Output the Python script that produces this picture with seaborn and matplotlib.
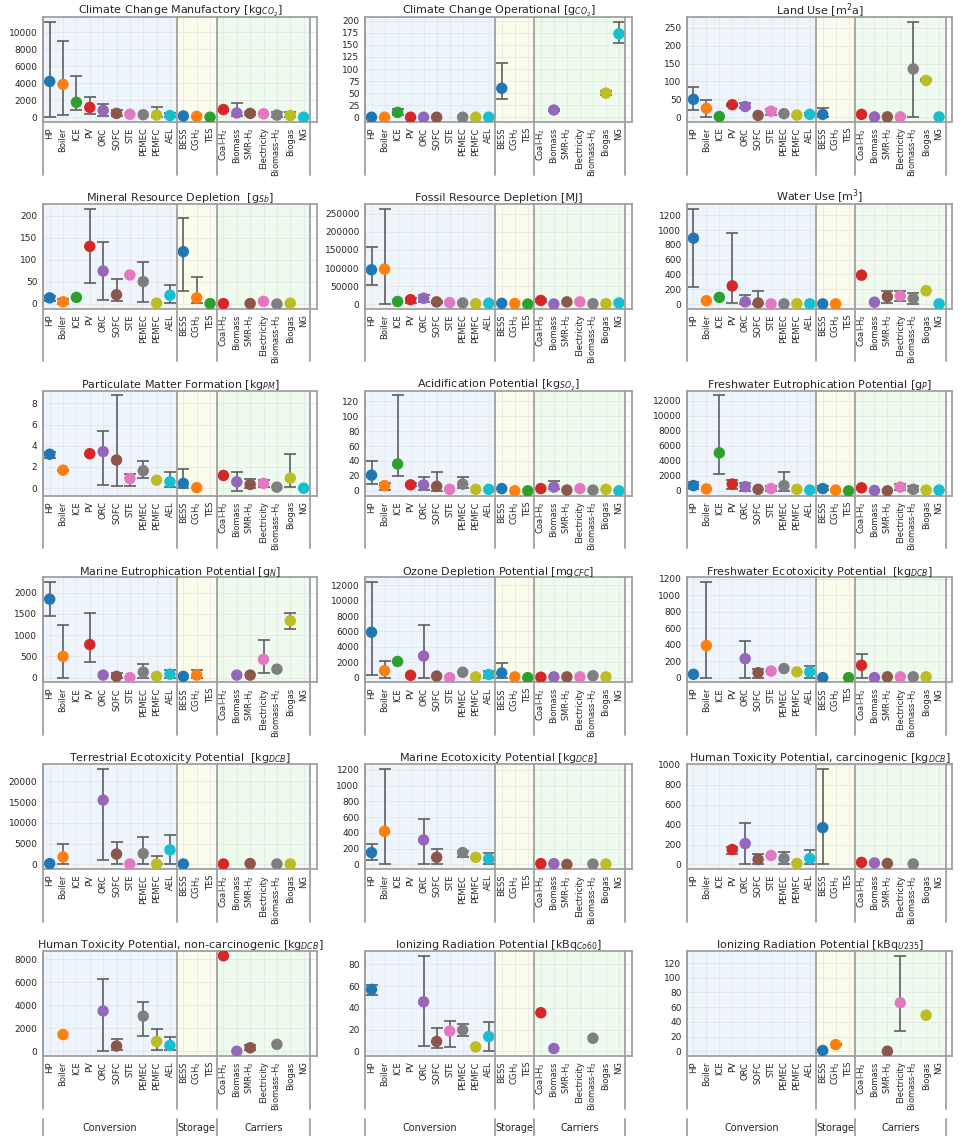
import numpy as np
import pandas as pd
import matplotlib.pyplot as plt
from matplotlib.ticker import MultipleLocator
import seaborn as sns

# categories and groups
categories = ["HP", "Boiler", "ICE", "PV", "ORC", "SOFC", "STE", "PEMEC", "PEMFC", "AEL",
              "BESS", "CGH$_2$", "TES",
              "Coal-H$_2$", "Biomass", "SMR-H$_2$", "Electricity", "Biomass-H$_2$", "Biogas", "NG"]
groups = ["Conversion", "Storage", "Carriers"]
group_bounds = [(-0.5, 9.5), (9.5, 12.5), (12.5, 19.5)]
N = None

titles = [
    "Climate Change Manufactory [kg$_{CO_2}$]",
    "Climate Change Operational [g$_{CO_2}$]",
    "Land Use [m$^2$a]",
    "Mineral Resource Depletion  [g$_{Sb}$]",
    "Fossil Resource Depletion [MJ]",
    "Water Use [m$^3$]",
    "Particulate Matter Formation [kg$_{PM}$]",
    "Acidification Potential [kg$_{SO_2}$]",
    "Freshwater Eutrophication Potential [g$_P$]",
    "Marine Eutrophication Potential [g$_N$]",
    "Ozone Depletion Potential [mg$_{CFC}$]",
    "Freshwater Ecotoxicity Potential  [kg$_{DCB}$]",
    "Terrestrial Ecotoxicity Potential  [kg$_{DCB}$]",
    "Marine Ecotoxicity Potential [kg$_{DCB}$]",
    "Human Toxicity Potential, carcinogenic [kg$_{DCB}$]",
    "Human Toxicity Potential, non-carcinogenic [kg$_{DCB}$]",
    "Ionizing Radiation Potential [kBq$_{Co60}$]",
    "Ionizing Radiation Potential [kBq$_{U235}$]",
]
ytick_steps = [2000, 25, 50, 50, 50000, 200, 2, 20, 2000, 500, 2000, 200, 5000, 200, 200, 2000, 20, 20]

# values: mid point, lower and upper error bound (None = no error bar / no value)
ccm_mid = [4200, 3850, 1750, 1150, 800, 450, 350, 300, 250, 200, 150, 100, 0, 900, 500, 450, 400, 250, 200, 0]
ccm_lo = [50, 300, 800, 350, 150, 150, N, N, 0, 0, N, N, N, 700, 150, 300, N, 0, 0, N]
ccm_hi = [11200, 9000, 4800, 2400, 1550, 800, N, N, 1150, 500, N, N, N, 1000, 1650, 600, N, 600, 600, N]

cco_mid = [0, 0, 10, 0, 0, 0, N, 0, 0, 0, 60, N, N, N, 15, N, N, N, 50, 173]
cco_lo = [N, N, 5, N, N, N, N, N, N, N, 38, N, N, N, 13, N, N, N, 46, 155]
cco_hi = [N, N, 17, N, N, N, N, N, N, N, 112, N, N, N, 17, N, N, N, 54, 198]

land_mid = [50, 25, 2, 35, 30, 5, 17, 10, 6, 8, 8, N, N, 8, 1, 1, 1, 135, 103, 1]
land_lo = [20, 2, N, 32, 25, N, 5, N, N, 5, 0, N, N, N, N, N, N, 2, 100, N]
land_hi = [85, 48, N, 38, 40, N, 22, N, N, 12, 26, N, N, N, N, N, N, 267, 106, N]

mineral_mid = [13, 4, 14, 130, 74, 20, 65, 50, 1, 19, 118, 13, 0, 0, N, 0, 5, -1, 1, N]
mineral_lo = [7, 0, N, 46, 9, 6, N, 3, N, 2, 28, 2, N, N, N, N, N, N, N, N]
mineral_hi = [18, 10, N, 216, 139, 55, N, 95, N, 43, 195, 60, N, N, N, N, N, N, N, N]

fossil_mid = [95000, 97000, 7000, 12000, 16000, 6000, 4000, 3000, 1000, 2000, 2000, 1500, 0,
              10000, 0, 6000, 6000, 1000, 1000, 3000]
fossil_lo = [53000, 0, N, 4000, 5000, 3000, N, N, N, N, N, N, N, 7000, N, N, N, N, N, N]
fossil_hi = [158000, 265000, N, 18000, 25000, 9000, N, N, N, N, N, N, N, 13000, N, N, N, N, N, N]

water_mid = [890, 45, 90, 245, 30, 15, 2, 2, 5, 3, 2, 2, N, 390, 25, 100, 110, 75, 180, 2]
water_lo = [230, N, N, 10, 0, 0, N, N, N, N, N, N, N, N, N, 20, 40, 0, N, N]
water_hi = [1290, N, N, 960, 120, 180, N, N, N, N, N, N, N, N, N, 170, 180, 150, N, N]

pm_mid = [3.2, 1.7, N, 3.25, 3.45, 2.65, 0.9, 1.65, 0.75, 0.6, 0.45, 0.05, N, 1.2, 0.6, 0.35, 0.45, 0.1, 0.95, 0.0]
pm_lo = [2.85, 1.65, N, N, 0.3, 0.2, 0.2, 1.0, N, 0.1, 0.05, N, N, N, -0.25, 0.05, 0.1, N, 0.1, N]
pm_hi = [3.4, 1.75, N, N, 5.4, 8.75, 1.3, 2.55, N, 1.5, 1.8, N, N, N, 1.5, 0.85, 0.8, N, 3.2, N]

acid_mid = [21, 7, 36, 8, 8, 6, 2, 9, 2, 2, 3, 0, 0, 3, 5, 1, 3, 1, 2, 0]
acid_lo = [9, 1, 20, 6, 1, 0, N, 4, N, N, N, N, N, N, 3, N, N, N, N, N]
acid_hi = [40, 11, 128, 11, 18, 25, N, 19, N, N, N, N, N, N, 13, N, N, N, N, N]

feutro_mid = [700, 250, 5050, 900, 550, 200, 300, 700, 200, 100, 300, 100, 0, 400, 50, 0, 500, 200, 100, 100]
feutro_lo = [200, N, 2300, 300, 0, N, 0, 0, N, N, 100, N, N, N, N, N, 100, 0, N, N]
feutro_hi = [1200, N, 12700, 1500, 1050, N, 600, 2450, N, N, 600, N, N, N, N, N, 950, 700, N, N]

meutro_mid = [1850, 500, N, 780, 60, 30, 0, 130, 30, 80, 30, 60, N, N, 60, 60, 430, 200, 1340, N]
meutro_lo = [1450, 0, N, 380, N, 0, N, 0, N, 0, N, 0, N, N, N, N, 100, N, 1150, N]
meutro_hi = [2250, 1250, N, 1530, N, 120, N, 330, N, 180, N, 190, N, N, N, N, 880, N, 1520, N]

ozone_mid = [5900, 900, 2100, 300, 2800, 200, 0, 700, 100, 400, 600, 100, 0, 50, 100, 100, 100, 250, 100, N]
ozone_lo = [400, 0, N, N, 0, N, N, N, N, 0, 0, N, N, N, N, N, N, N, N, N]
ozone_hi = [12400, 2100, N, N, 6800, N, N, N, N, 900, 1900, N, N, N, N, N, N, N, N, N]

fecotox_mid = [40, 390, N, N, 230, 60, 80, 110, 70, 70, 0, N, 0, 150, 0, 10, 10, 10, 10, N]
fecotox_lo = [N, 0, N, N, 0, 0, N, N, N, 0, N, N, N, 0, N, N, N, N, N, N]
fecotox_hi = [N, 1160, N, N, 440, 110, N, N, N, 140, N, N, N, 290, N, N, N, N, N, N]

tecotox_mid = [200, 1800, N, N, 15500, 2500, 100, 2600, 100, 3500, 100, N, N, 100, N, 200, N, 100, 100, N]
tecotox_lo = [N, 0, N, N, 1000, 0, N, 0, 0, 0, N, N, N, N, N, N, N, N, N, N]
tecotox_hi = [N, 5000, N, N, 23000, 5500, N, 6700, 2000, 7000, N, N, N, N, N, N, N, N, N, N]

mecotox_mid = [150, 420, N, N, 310, 90, N, 150, 90, 70, N, N, N, 10, 10, 0, N, 5, 5, N]
mecotox_lo = [50, 0, N, N, 0, 0, N, 100, N, 0, N, N, N, N, N, N, N, N, N, N]
mecotox_hi = [260, 1210, N, N, 580, 200, N, 170, N, 140, N, N, N, N, N, N, N, N, N, N]

htc_mid = [N, N, N, 150, 210, 50, 90, 60, 10, 60, 370, N, N, 20, 15, 10, N, 5, N, N]
htc_lo = [N, N, N, 100, 0, 0, N, 0, N, 0, 0, N, N, N, N, N, N, N, N, N]
htc_hi = [N, N, N, 180, 420, 100, N, 130, N, 150, 960, N, N, N, N, N, N, N, N, N]

htnc_mid = [N, 1450, N, N, 3500, 450, N, 3050, 850, 500, N, N, N, 8300, 0, 300, N, 600, N, N]
htnc_lo = [N, N, N, N, 0, 150, N, 1350, 100, 100, N, N, N, N, N, 100, N, N, N, N]
htnc_hi = [N, N, N, N, 6250, 1100, N, 4250, 1950, 1250, N, N, N, N, N, 550, N, N, N, N]

irco_mid = [57, N, N, N, 45.5, 9, 18.5, 19.5, 4, 13.5, N, N, N, 35.5, 2.5, N, N, 12, N, N]
irco_lo = [52, N, N, N, 4.5, 3, 4, 14, N, 0, N, N, N, N, N, N, N, N, N, N]
irco_hi = [61, N, N, N, 88, 21, 28, 25, N, 27, N, N, N, N, N, N, N, N, N, N]

iru_mid = [N, N, N, N, N, N, N, N, N, N, 1, 9, N, N, N, 0, 66, N, 49, N]
iru_lo = [N, N, N, N, N, N, N, N, N, N, N, 8, N, N, N, N, 28, N, N, N]
iru_hi = [N, N, N, N, N, N, N, N, N, N, N, 10, N, N, N, N, 130, N, N, N]

panels = [
    (ccm_mid, ccm_lo, ccm_hi), (cco_mid, cco_lo, cco_hi), (land_mid, land_lo, land_hi),
    (mineral_mid, mineral_lo, mineral_hi), (fossil_mid, fossil_lo, fossil_hi), (water_mid, water_lo, water_hi),
    (pm_mid, pm_lo, pm_hi), (acid_mid, acid_lo, acid_hi), (feutro_mid, feutro_lo, feutro_hi),
    (meutro_mid, meutro_lo, meutro_hi), (ozone_mid, ozone_lo, ozone_hi), (fecotox_mid, fecotox_lo, fecotox_hi),
    (tecotox_mid, tecotox_lo, tecotox_hi), (mecotox_mid, mecotox_lo, mecotox_hi), (htc_mid, htc_lo, htc_hi),
    (htnc_mid, htnc_lo, htnc_hi), (irco_mid, irco_lo, irco_hi), (iru_mid, iru_lo, iru_hi),
]

sns.set_style("whitegrid")
plt.rcParams["font.family"] = ["DejaVu Sans"]

tab10 = sns.color_palette("tab10", 10)
palette = {cat: tab10[i % 10] for i, cat in enumerate(categories)}
span_colors = ["#eef4fb", "#fcfcec", "#eefaee"]
line_col = "#a0a0a0"
text_col = "#262626"

fig = plt.figure(figsize=(9.63, 11.36), dpi=100)
W, H = 963.0, 1136.0
col_left = [43, 365, 687]
col_width = [274, 267, 265]
ax_h = 105
row_pitch = 186.8


def to_float(vals):
    return np.array([np.nan if v is None else v for v in vals], dtype=float)


for i, (mid, lo, hi) in enumerate(panels):
    r, c = divmod(i, 3)
    bottom_px = 122 + row_pitch * r
    ax = fig.add_axes([col_left[c] / W, 1 - bottom_px / H, col_width[c] / W, ax_h / H])

    df = pd.DataFrame({"cat": categories, "pos": np.arange(len(categories)),
                       "mid": to_float(mid), "lo": to_float(lo), "hi": to_float(hi)})

    for (x0, x1), col in zip(group_bounds, span_colors):
        ax.axvspan(x0, x1, color=col, zorder=0, lw=0)

    err = df.dropna(subset=["lo", "hi", "mid"])
    if len(err):
        ax.errorbar(err["pos"], err["mid"], yerr=[err["mid"] - err["lo"], err["hi"] - err["mid"]],
                    fmt="none", ecolor="#5f5f5f", elinewidth=1.2, capsize=4, capthick=1.2, zorder=2)

    pts = df.dropna(subset=["mid"])
    sns.scatterplot(data=pts, x="pos", y="mid", hue="cat", palette=palette, hue_order=categories,
                    s=68, linewidth=0, legend=False, ax=ax, zorder=3)

    ax.set_xlim(-0.5, 20)
    ax.set_xticks(np.arange(len(categories)))
    ax.set_xticklabels(categories, rotation=90, fontsize=6, color=text_col)
    ax.yaxis.set_major_locator(MultipleLocator(ytick_steps[i]))
    ax.tick_params(axis="y", labelsize=6.5, labelcolor=text_col, length=2.5, color=line_col, pad=1.5)
    ax.tick_params(axis="x", length=2.5, color=line_col, pad=1.5)
    ax.set_xlabel("")
    ax.set_ylabel("")
    ax.set_title(titles[i], fontsize=8, color=text_col, pad=2)
    ax.grid(True, color="#e3e3e3", lw=0.5)
    for sp in ax.spines.values():
        sp.set_color(line_col)
        sp.set_linewidth(1.3)

    # group separators, inside the axes and down through the tick labels
    trans = ax.get_xaxis_transform()
    for x in [-0.5, 9.5, 12.5, 19.5]:
        ax.plot([x, x], [1, -0.5], transform=trans, color=line_col, lw=1.3, clip_on=False, zorder=4)
        if r == 5:
            ax.plot([x, x], [-0.6, -0.78], transform=trans, color=line_col, lw=1.3, clip_on=False)
    if r == 5:
        for (x0, x1), g in zip(group_bounds, groups):
            ax.text((x0 + x1) / 2, -0.69, g, transform=trans, ha="center", va="center",
                    fontsize=7, color=text_col)

fig.savefig("out.png", dpi=100)
